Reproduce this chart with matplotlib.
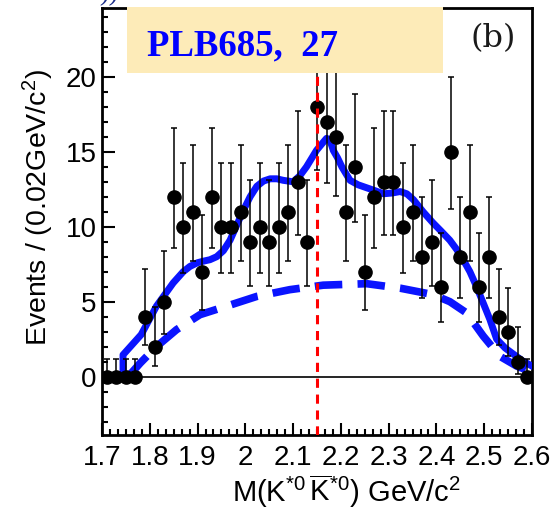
import numpy as np
import matplotlib
matplotlib.use('Agg')
import matplotlib.pyplot as plt
from matplotlib.patches import Rectangle
from matplotlib.ticker import MultipleLocator, FuncFormatter

# histogram: 45 bins of 0.02 GeV from 1.70 to 2.60
bin_start = 1.70
bin_width = 0.02
counts = [0, 0, 0, 0, 4, 2, 5, 12, 10, 11, 7, 12, 10, 10, 11, 9, 10, 9, 10, 11, 13, 9,
          18, 17, 16, 11, 14, 7, 12, 13, 13, 10, 11, 8, 9, 6, 15, 8, 11, 6, 8, 4, 3, 1, 0]

# total fit (solid)
fit_x = [1.700, 1.744, 1.744, 1.782, 1.814, 1.849, 1.870, 1.884, 1.900, 1.912, 1.926, 1.940,
         1.954, 1.968, 1.982, 1.996, 2.010, 2.024, 2.038, 2.052, 2.066, 2.079, 2.100, 2.114,
         2.128, 2.149, 2.162, 2.170, 2.177, 2.184, 2.193, 2.202, 2.219, 2.236, 2.254, 2.272,
         2.289, 2.307, 2.324, 2.338, 2.352, 2.372, 2.393, 2.410, 2.428, 2.442, 2.456, 2.470,
         2.484, 2.498, 2.512, 2.526, 2.544, 2.561, 2.580, 2.600]
fit_y = [0, 0, 1.45, 2.8, 4.7, 6.25, 7.0, 7.35, 7.6, 7.7, 7.8, 8.0,
         8.4, 9.1, 10.1, 11.1, 12.0, 12.7, 13.05, 13.2, 13.2, 13.1, 13.0, 13.4,
         14.0, 15.1, 15.6, 15.9, 15.8, 15.1, 14.6, 14.0, 13.1, 12.8, 12.6, 12.4,
         12.2, 12.25, 12.35, 12.2, 11.8, 11.0, 10.25, 9.7, 9.1, 8.5, 7.8, 7.0,
         6.0, 4.9, 3.8, 2.5, 1.9, 1.5, 1.05, 0.7]

# background (dashed)
bkg_x = [1.755, 1.780, 1.814, 1.856, 1.905, 1.961, 2.024, 2.093, 2.163, 2.254, 2.324,
         2.393, 2.428, 2.463, 2.498, 2.533, 2.568, 2.600]
bkg_y = [0, 0.9, 2.0, 3.13, 4.13, 4.7, 5.35, 5.8, 6.1, 6.2, 5.9,
         5.47, 5.0, 4.25, 2.7, 1.35, 0.7, 0.3]

x_marker = 2.15
xticks = [1.7, 1.8, 1.9, 2.0, 2.1, 2.2, 2.3, 2.4, 2.5, 2.6]
yticks = [0, 5, 10, 15, 20]

plt.rcParams['font.family'] = ['Liberation Sans', 'DejaVu Sans']
plt.rcParams['mathtext.fontset'] = 'custom'
plt.rcParams['mathtext.rm'] = 'Liberation Sans'
plt.rcParams['mathtext.it'] = 'Liberation Sans:italic'
plt.rcParams['mathtext.bf'] = 'Liberation Sans:bold'

n = np.array(counts, dtype=float)
centers = bin_start + bin_width * (np.arange(len(counts)) + 0.5)
# Gehrels approximation of Poisson intervals
nn = np.maximum(n, 1)
err_up = np.where(n > 0, 1 + np.sqrt(n + 0.75), 1.15)
err_lo = np.where(n > 0, n - n * (1 - 1 / (9 * nn) - 1 / (3 * np.sqrt(nn))) ** 3, 0)

fig = plt.figure(figsize=(5.58, 5.11), dpi=100)
ax = fig.add_axes([102 / 558, 1 - 435 / 511, 430 / 558, 427 / 511])

ax.axhline(0, color='black', lw=1.2, zorder=1)
ax.plot(bkg_x, bkg_y, color='#0a14ff', lw=5.5, ls=(0, (3.6, 2.0)), zorder=2)
ax.plot(fit_x, fit_y, color='#0a14ff', lw=5, zorder=3, solid_joinstyle='round')
ax.errorbar(centers, n, yerr=[err_lo, err_up], fmt='o', color='black', ms=9.5,
            elinewidth=1.1, capsize=2.5, capthick=1.1, zorder=4)
ax.axvline(x_marker, color='red', lw=2.2, ls=(0, (3, 2.2)), zorder=6)

ax.set_xlim(1.7, 2.6)
ax.set_ylim(-3.9, 24.6)
ax.set_xticks(xticks)
ax.set_yticks(yticks)
ax.xaxis.set_minor_locator(MultipleLocator(0.1 / 6))
ax.yaxis.set_minor_locator(MultipleLocator(1))
ax.xaxis.set_major_formatter(FuncFormatter(lambda v, p: '%g' % round(v, 2)))
ax.tick_params(which='both', direction='in', top=False, right=False, width=1.5)
ax.tick_params(which='major', length=9, labelsize=20)
ax.tick_params(which='minor', length=4.5)
ax.tick_params(axis='x', pad=7)
ax.tick_params(axis='y', pad=4)
for s in ax.spines.values():
    s.set_linewidth(2)

fig.text(346 / 558, 1 - 491 / 511, r'M(K$^{*0}\,\overline{\rm K}^{*0}$) GeV/c$^{2}$',
         ha='center', va='center', fontsize=21)
fig.text(38 / 558, 1 - 208 / 511, r'Events / (0.02GeV/c$^{2}$)', rotation=90,
         ha='center', va='center', fontsize=20.5)

box = Rectangle((127 / 558, 1 - 73 / 511), 316 / 558, 66 / 511, transform=fig.transFigure,
                facecolor='#fdebb8', edgecolor='none', zorder=10)
fig.add_artist(box)
fig.text(147 / 558, 1 - 55 / 511, 'PLB685,  27', family='Liberation Serif',
         fontweight='bold', fontsize=26.5, color='#0000ff', zorder=11)
fig.text(493 / 558, 1 - 39 / 511, '(b)', family='DejaVu Serif', ha='center',
         va='center', fontsize=23, color='#1a1a1a', zorder=11)
fig.text(100 / 558, 1 + 4 / 511, '))', family='DejaVu Serif', style='italic',
         fontsize=18, color='#1c2f8a', va='center', zorder=11)

fig.savefig('out.png', dpi=100)
